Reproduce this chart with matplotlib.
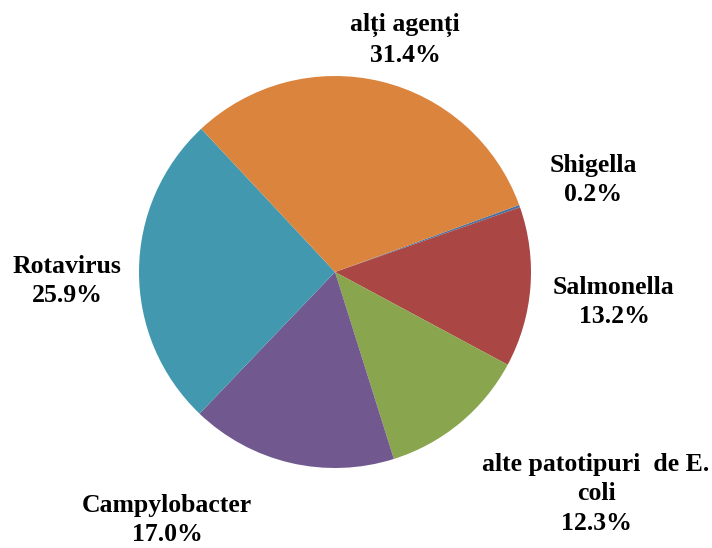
import matplotlib.pyplot as plt

# Donnees du graphique (pourcentages)
categories = ["Shigella", "Salmonella", "alte patotipuri  de E.\ncoli",
              "Campylobacter", "Rotavirus", "alți agenți"]
valori = [0.2, 13.2, 12.3, 17.0, 25.9, 31.4]
culori = ["#4572A7", "#AA4643", "#89A54E", "#71588F", "#4198AF", "#DB843D"]

# Positions des etiquettes (pixels, origine en bas a gauche)
pos_etichete = [(593, 368), (614, 246), (596, 54), (167, 28), (67, 267), (405, 508)]

fig = plt.figure(figsize=(7.12, 5.48), dpi=100)
ax = fig.add_axes([0, 0, 1, 1])

ax.pie(valori, colors=culori, startangle=20, counterclock=False,
       center=(335, 276), radius=196, frame=True,
       wedgeprops=dict(linewidth=0))
ax.set_xlim(0, 712)
ax.set_ylim(0, 548)
ax.set_aspect("equal")
ax.axis("off")

for nume, val, (x, y) in zip(categories, valori, pos_etichete):
    ax.text(x, y, f"{nume}\n{val:.1f}%", ha="center", va="center",
            fontsize=18.5, fontweight="bold", family="Liberation Serif",
            linespacing=1.35)

fig.savefig("out.png", dpi=100)
